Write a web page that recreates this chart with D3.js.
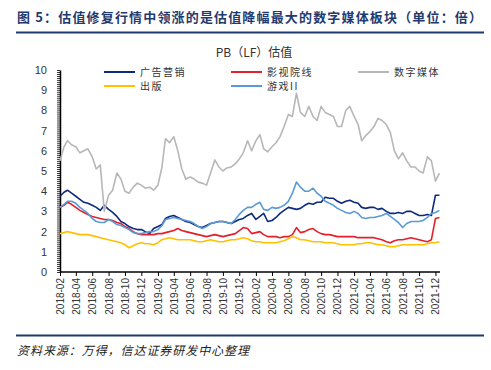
<!DOCTYPE html>
<html><head><meta charset="utf-8">
<script src="https://cdn.jsdelivr.net/npm/d3@7"></script>
<style>
html,body{margin:0;padding:0;background:#fff;}
svg{display:block;}
</style></head>
<body>
<script>
// ---- data ----
const months = ["2018-02","2018-03","2018-04","2018-05","2018-06","2018-07","2018-08","2018-09","2018-10","2018-11","2018-12",
"2019-01","2019-02","2019-03","2019-04","2019-05","2019-06","2019-07","2019-08","2019-09","2019-10","2019-11","2019-12",
"2020-01","2020-02","2020-03","2020-04","2020-05","2020-06","2020-07","2020-08","2020-09","2020-10","2020-11","2020-12",
"2021-01","2021-02","2021-03","2021-04","2021-05","2021-06","2021-07","2021-08","2021-09","2021-10","2021-11","2021-12"];
const obsDays = ["01","16"];
const tickLabels = ["2018-02","2018-04","2018-06","2018-08","2018-10","2018-12","2019-02","2019-04","2019-06","2019-08","2019-10","2019-12",
"2020-02","2020-04","2020-06","2020-08","2020-10","2020-12","2021-02","2021-04","2021-06","2021-08","2021-10","2021-12"];
const yTicks = [0,1,2,3,4,5,6,7,8,9,10];

const ad = [3.75,3.95,4.05,3.9,3.75,3.6,3.45,3.4,3.3,3.2,3.05,3.3,3.1,2.95,2.75,2.5,2.4,2.25,2.15,2.1,2.1,2.0,1.9,2.15,2.25,2.35,2.65,2.75,2.8,2.7,2.6,2.5,2.45,2.35,2.25,2.2,2.3,2.4,2.45,2.5,2.5,2.45,2.4,2.5,2.6,2.65,2.8,2.9,2.6,2.75,2.9,2.5,2.55,2.7,2.9,3.05,3.2,3.15,3.1,3.15,3.3,3.4,3.35,3.45,3.45,3.7,3.65,3.65,3.5,3.4,3.5,3.55,3.45,3.4,3.2,3.15,3.2,3.2,3.1,3.15,3.0,2.9,2.9,2.95,2.9,3.0,3.0,2.9,2.8,2.8,2.85,2.8,3.8,3.8];
const film = [3.2,3.3,3.45,3.35,3.2,3.05,2.95,2.85,2.75,2.7,2.65,2.6,2.6,2.55,2.45,2.4,2.25,2.15,2.0,1.9,1.85,1.85,1.85,1.85,1.9,1.9,1.95,2.0,2.05,2.15,2.05,2.0,1.95,1.9,1.85,1.8,1.75,1.8,1.85,1.8,1.75,1.8,1.85,1.9,2.05,2.2,2.15,1.9,1.95,2.0,1.85,1.75,1.75,1.75,1.7,1.75,1.75,1.85,2.2,1.95,2.0,2.1,2.15,2.0,1.9,1.85,1.85,1.8,1.75,1.75,1.75,1.75,1.75,1.7,1.7,1.7,1.7,1.7,1.65,1.6,1.5,1.45,1.55,1.6,1.6,1.65,1.7,1.65,1.6,1.55,1.5,1.6,2.65,2.7];
const digital = [5.5,6.2,6.5,6.3,6.2,5.9,6.0,6.1,5.7,5.1,5.3,3.0,3.8,4.05,4.9,4.6,4.0,3.9,4.2,4.4,4.3,4.15,4.2,4.05,4.3,5.2,6.6,6.4,6.7,6.0,5.1,4.6,4.7,4.6,4.45,4.4,4.3,4.9,5.55,5.2,5.0,5.15,5.2,5.35,5.6,5.9,6.5,6.0,6.5,6.8,6.1,5.95,6.2,6.4,6.7,7.2,7.8,7.7,8.85,7.9,7.7,8.2,7.7,7.5,8.2,7.9,7.8,7.7,7.2,7.2,8.0,8.2,7.7,7.3,6.5,6.75,6.95,7.2,7.6,7.5,7.3,6.9,6.0,5.6,5.9,5.5,5.2,5.2,5.0,4.9,5.7,5.5,4.5,4.9];
const publish = [1.9,1.95,2.0,1.95,1.9,1.85,1.85,1.85,1.8,1.75,1.7,1.65,1.6,1.55,1.5,1.45,1.35,1.2,1.3,1.4,1.45,1.4,1.4,1.35,1.45,1.6,1.65,1.7,1.65,1.6,1.6,1.6,1.6,1.55,1.5,1.5,1.55,1.6,1.55,1.5,1.5,1.55,1.6,1.6,1.65,1.7,1.65,1.55,1.5,1.5,1.45,1.45,1.45,1.45,1.5,1.55,1.65,1.75,1.7,1.6,1.6,1.55,1.5,1.5,1.5,1.45,1.45,1.45,1.4,1.35,1.35,1.35,1.35,1.4,1.4,1.45,1.45,1.4,1.35,1.35,1.3,1.25,1.25,1.3,1.35,1.35,1.35,1.35,1.35,1.35,1.4,1.45,1.45,1.5];
const games = [3.2,3.35,3.5,3.5,3.4,3.2,3.05,2.9,2.65,2.5,2.45,2.45,2.6,2.5,2.35,2.3,2.2,2.1,1.95,1.9,1.9,1.95,2.0,2.0,2.1,2.3,2.6,2.65,2.7,2.65,2.6,2.55,2.5,2.4,2.25,2.15,2.25,2.4,2.45,2.5,2.5,2.45,2.4,2.6,2.85,3.05,3.2,3.2,3.35,3.45,3.1,3.05,3.2,3.15,3.2,3.3,3.5,3.9,4.45,4.2,4.0,4.0,4.15,3.9,3.75,3.5,3.4,3.3,3.15,3.05,2.95,2.9,3.0,2.9,2.7,2.65,2.7,2.7,2.75,2.8,2.9,2.75,2.6,2.45,2.2,2.4,2.5,2.5,2.5,2.55,2.7,2.9,2.95,3.05];

const seriesNames = ["广告营销","影视院线","数字媒体","出版","游戏II"];
const seriesColors = ["#0d2a7c","#e3202b","#b7b7b7","#ffc000","#5b9bd5"];
const seriesValues = [ad, film, digital, publish, games];

// ---- layout ----
const W = 491, H = 370;
const parse = d3.timeParse("%Y-%m-%d");
const parseM = d3.timeParse("%Y-%m");
const dates = months.flatMap(m => obsDays.map(d => parse(m + "-" + d)));

const svg = d3.select("body").append("svg").attr("width", W).attr("height", H)
  .style("font-family", "'Liberation Sans', Arial, sans-serif");

const navy = "#1f3a6e";
// header
svg.append("text").attr("x", 17).attr("y", 22)
  .attr("textLength", 465).attr("lengthAdjust", "spacing")
  .style("font-family", "'Noto Sans CJK SC', sans-serif").style("font-size", "13px").style("font-weight", "bold")
  .attr("fill", navy)
  .text("图 5：估值修复行情中领涨的是估值降幅最大的数字媒体板块（单位：倍）");
svg.append("line").attr("x1", 16).attr("x2", 484).attr("y1", 32.5).attr("y2", 32.5).attr("stroke", navy).attr("stroke-width", 2);
svg.append("line").attr("x1", 16).attr("x2", 484).attr("y1", 335.5).attr("y2", 335.5).attr("stroke", navy).attr("stroke-width", 2);
svg.append("text").attr("x", 17).attr("y", 355)
  .attr("textLength", 232).attr("lengthAdjust", "spacing")
  .style("font-family", "'Noto Sans CJK SC', sans-serif").style("font-size", "12px").style("font-style", "italic")
  .attr("fill", "#222")
  .text("资料来源：万得，信达证券研发中心整理");

// chart title
svg.append("text").attr("x", 254).attr("y", 57).attr("text-anchor", "middle")
  .style("font-family", "'Noto Sans CJK SC', sans-serif").style("font-size", "12px").attr("fill", "#333")
  .text("PB（LF）估值");

const x = d3.scaleTime().domain([parse("2018-02-01"), parse("2021-12-18")]).range([60, 440]);
const y = d3.scaleLinear().domain([0, 10]).range([272, 70]);

// y axis minor ticks
const yAxisMinor = d3.axisLeft(y).tickValues(d3.range(0, 101).map(d => d / 10)).tickSize(3).tickFormat("");
const gyMinor = svg.append("g").attr("transform", "translate(60,0)").call(yAxisMinor);
gyMinor.select(".domain").remove();
gyMinor.selectAll("line").attr("stroke", "#000").attr("stroke-width", 0.8);

const yAxis = d3.axisLeft(y).tickValues(yTicks).tickSize(0).tickPadding(13).tickFormat(d3.format("d"));
const gy = svg.append("g").attr("transform", "translate(60,0)").call(yAxis);
gy.select(".domain").attr("stroke", "#000").attr("stroke-width", 1.5);
gy.selectAll("text").style("font-size", "11px").attr("fill", "#333");

// x axis
const xAxis = d3.axisBottom(x).tickValues(tickLabels.map(parseM)).tickSize(4).tickFormat(d3.timeFormat("%Y-%m"));
const gx = svg.append("g").attr("transform", "translate(0,272)").call(xAxis);
gx.select(".domain").attr("stroke", "#000").attr("stroke-width", 1.5).attr("d", "M60,0H440");
gx.selectAll(".tick line").attr("stroke", "#000");
gx.selectAll("text").style("font-size", "10px").attr("fill", "#333")
  .attr("transform", "rotate(-90)").attr("text-anchor", "end").attr("y", 0)
  .attr("x", -6).attr("dy", "0.35em");

// lines
const line = d3.line().x((d, i) => x(dates[i])).y(d => y(d));
seriesValues.forEach((vals, k) => {
  svg.append("path").datum(vals).attr("d", line).attr("fill", "none")
    .attr("stroke", seriesColors[k]).attr("stroke-width", 1.6).attr("stroke-linejoin", "round");
});

// legend
const legPos = [[104, 72], [231, 72], [358, 72], [104, 86], [231, 86]];
seriesNames.forEach((n, k) => {
  const [lx, ly] = legPos[k];
  svg.append("line").attr("x1", lx).attr("x2", lx + 31).attr("y1", ly).attr("y2", ly)
    .attr("stroke", seriesColors[k]).attr("stroke-width", 2);
  svg.append("text").attr("x", lx + 36).attr("y", ly + 3.5)
    .style("font-family", "'Noto Sans CJK SC', sans-serif").style("font-size", "10px").style("letter-spacing", "1.5px")
    .attr("fill", "#333").text(n);
});
</script>
</body></html>
